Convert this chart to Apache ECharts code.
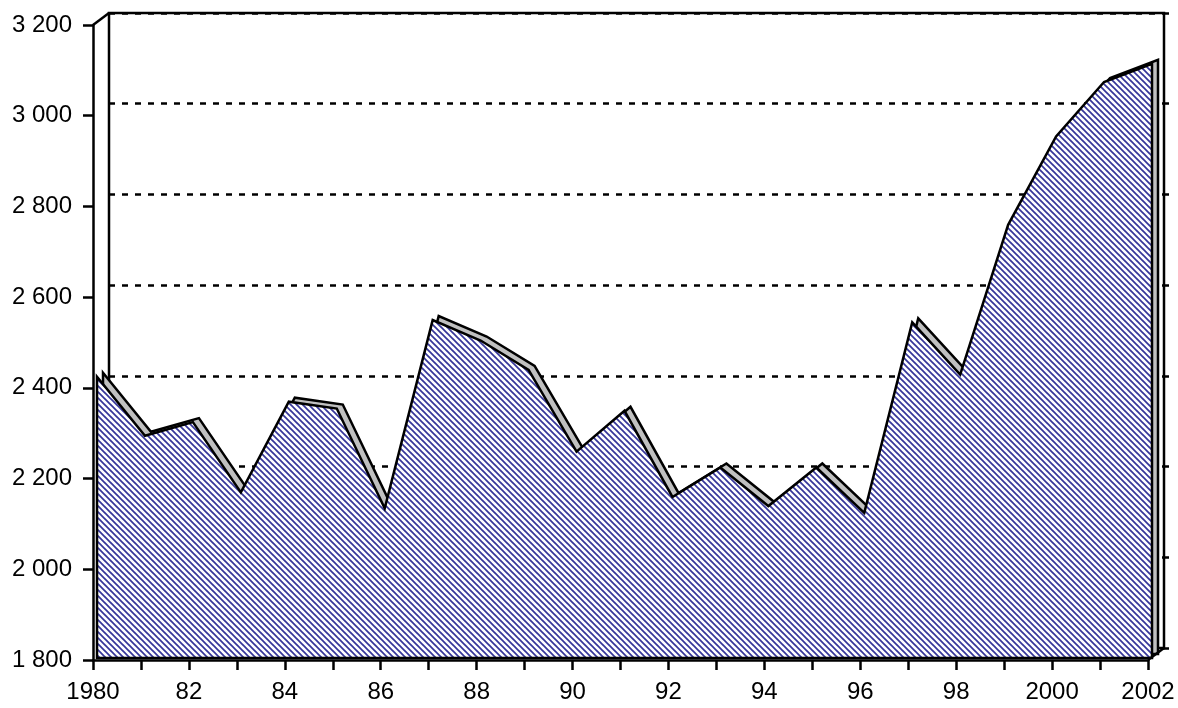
<!DOCTYPE html>
<html>
<head>
<meta charset="utf-8">
<script src="https://cdn.jsdelivr.net/npm/echarts@6/dist/echarts.min.js"></script>
<style>
  html, body { margin: 0; padding: 0; background: #fff; }
  #chart { width: 1178px; height: 708px; }
</style>
</head>
<body>
<div id="chart"></div>
<script>
const years = [1980, 1981, 1982, 1983, 1984, 1985, 1986, 1987, 1988, 1989, 1990, 1991,
  1992, 1993, 1994, 1995, 1996, 1997, 1998, 1999, 2000, 2001, 2002]
const values = [2420, 2290, 2320, 2165, 2365, 2350, 2130, 2545, 2500, 2435, 2255, 2345,
  2155, 2220, 2135, 2220, 2120, 2540, 2425, 2755, 2950, 3070, 3110]
const yMin = 1800
const yMax = 3200
const yStep = 200

// front plane of the 3d box, and the depth shift to the back wall
const front = { left: 93, top: 25, right: 30, bottom: 48 }
const depth = { dx: 16, dy: -12 }
const faceShift = { dx: 4, dy: -2 } // front face of the area
const backShift = { dx: 10, dy: -6 } // back face of the area

const font = 'Liberation Sans, Arial, sans-serif'

function shifted(s) {
  return {
    left: front.left + s.dx,
    top: front.top + s.dy,
    right: front.right - s.dx,
    bottom: front.bottom - s.dy
  }
}

// diagonal hatch like the excel pattern fill
function hatch() {
  const c = document.createElement('canvas')
  c.width = 6
  c.height = 6
  const ctx = c.getContext('2d')
  ctx.fillStyle = '#fff'
  ctx.fillRect(0, 0, 6, 6)
  ctx.strokeStyle = '#36369a'
  ctx.lineWidth = 1.7
  for (const k of [-6, 0, 6]) {
    ctx.beginPath()
    ctx.moveTo(k - 1, -1)
    ctx.lineTo(k + 7, 7)
    ctx.stroke()
  }
  return c
}

function areaShape(fill) {
  return function(params, api) {
    if (params.dataIndex !== 0) return null
    const pts = years.map((y, i) => api.coord([y, values[i]]))
    pts.push(api.coord([years[years.length - 1], yMin]))
    pts.push(api.coord([years[0], yMin]))
    return {
      type: 'polygon',
      shape: { points: pts },
      style: { fill: fill, stroke: '#000', lineWidth: 2.5 }
    }
  }
}

function fmtY(v) {
  return String(v).replace(/\B(?=(\d{3})+(?!\d))/g, ' ')
}

function fmtX(v) {
  if (v % 2 !== 0) return ''
  if (v === 1980 || v >= 2000) return String(v)
  return String(v).slice(2)
}

const hidden = { show: false }
const seriesData = years.map((y, i) => [y, values[i]])

const chart = echarts.init(document.getElementById('chart'))

const back = shifted(depth)
const W = 1178
const H = 708

chart.setOption({
  animation: false,
  backgroundColor: '#fff',
  grid: [
    Object.assign({ show: true, borderColor: '#000', borderWidth: 2.5, backgroundColor: 'transparent', z: 0 }, back),
    Object.assign({}, front),
    Object.assign({}, shifted(backShift)),
    Object.assign({}, shifted(faceShift))
  ],
  xAxis: [
    { gridIndex: 0, type: 'value', min: 1980, max: 2002, show: false },
    {
      gridIndex: 1, type: 'value', min: 1980, max: 2002, interval: 1,
      axisLine: { lineStyle: { color: '#000', width: 2.5 } },
      axisTick: { length: 10, lineStyle: { color: '#000', width: 2.5 } },
      axisLabel: { formatter: fmtX, color: '#000', fontSize: 24, fontFamily: font, margin: 20, showMinLabel: true, showMaxLabel: true },
      splitLine: hidden
    },
    { gridIndex: 2, type: 'value', min: 1980, max: 2002, show: false },
    { gridIndex: 3, type: 'value', min: 1980, max: 2002, show: false }
  ],
  yAxis: [
    {
      gridIndex: 0, type: 'value', min: yMin, max: yMax, interval: yStep,
      axisLine: hidden, axisTick: hidden, axisLabel: hidden,
      splitLine: { lineStyle: { color: '#000', width: 2.5, type: [6, 7] } }
    },
    {
      gridIndex: 1, type: 'value', min: yMin, max: yMax, interval: yStep,
      axisLine: { show: true, lineStyle: { color: '#000', width: 2.5 } },
      axisTick: { show: true, length: 10, lineStyle: { color: '#000', width: 2.5 } },
      axisLabel: { formatter: fmtY, color: '#000', fontSize: 24, fontFamily: font, margin: 21 },
      splitLine: hidden
    },
    { gridIndex: 2, type: 'value', min: yMin, max: yMax, show: false },
    { gridIndex: 3, type: 'value', min: yMin, max: yMax, show: false },
    {
      gridIndex: 0, type: 'value', min: yMin, max: yMax, interval: yStep, position: 'right',
      axisLine: hidden, axisLabel: hidden, splitLine: hidden,
      axisTick: { show: true, length: 5, lineStyle: { color: '#000', width: 2.5 } }
    }
  ],
  series: [
    {
      type: 'custom', xAxisIndex: 2, yAxisIndex: 2, z: 3,
      renderItem: areaShape('#c0c0c0'), data: seriesData
    },
    {
      type: 'custom', xAxisIndex: 3, yAxisIndex: 3, z: 4,
      renderItem: areaShape({ image: hatch(), repeat: 'repeat' }), data: seriesData
    }
  ],
  graphic: [
    {
      type: 'line', z: 10,
      shape: { x1: front.left, y1: front.top, x2: back.left, y2: back.top },
      style: { stroke: '#000', lineWidth: 2.5 }
    },
    {
      type: 'line', z: 10,
      shape: { x1: W - front.right, y1: H - front.bottom, x2: W - back.right, y2: H - back.bottom },
      style: { stroke: '#000', lineWidth: 2.5 }
    }
  ]
})
</script>
</body>
</html>
